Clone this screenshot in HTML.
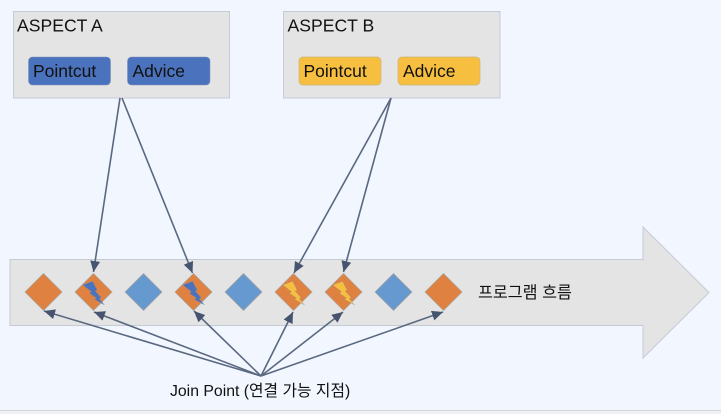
<!DOCTYPE html>
<html>
<head>
<meta charset="utf-8">
<style>
html,body{margin:0;padding:0;background:#f1f6ff;}
svg{display:block;}
text{font-family:"Liberation Sans","Noto Sans CJK KR",sans-serif;fill:#111;}
</style>
</head>
<body>
<svg width="721" height="414" viewBox="0 0 721 414" xmlns="http://www.w3.org/2000/svg">
<defs>
<marker id="a" markerUnits="userSpaceOnUse" markerWidth="13" markerHeight="11" refX="11" refY="5" orient="auto">
<path d="M0 0L11 5L0 10z" fill="#46546f"/>
</marker>
<polygon id="d" points="0,-18.5 18.5,0 0,18.5 -18.5,0" stroke="#a9a59f" stroke-width="0.7"/>
<path id="bolt" d="M-10.7,-7 L-1,-10.7 L3.7,-2 L1.7,-1 L7.7,5.7 L5.7,6.7 L11,13 L1,7.3 L3,6 L-4,1.3 L-2,-0.3z" stroke="#8a8f9a" stroke-width="0.3"/>
</defs>
<rect width="721" height="414" fill="#f1f6ff"/>
<rect x="0" y="410" width="721" height="4" fill="#f0f1f5"/>
<rect x="0" y="410" width="721" height="1" fill="#d4d6da"/>

<rect x="13.5" y="11.5" width="216" height="86.5" fill="#e4e4e4" stroke="#c5cbd8" stroke-width="1"/>
<rect x="28.5" y="57" width="82" height="28" rx="4" fill="#4a72bd" stroke="#8194bb" stroke-width="0.6"/>
<rect x="127.5" y="57" width="82.5" height="28" rx="4" fill="#4a72bd" stroke="#8194bb" stroke-width="0.6"/>
<text x="17" y="31.5" font-size="17.6">ASPECT A</text>
<text x="33" y="77" font-size="17.5">Pointcut</text>
<text x="132.5" y="77" font-size="17.5">Advice</text>

<rect x="283.5" y="11.5" width="216.5" height="86.5" fill="#e4e4e4" stroke="#c5cbd8" stroke-width="1"/>
<rect x="299" y="57" width="82" height="28" rx="4" fill="#f6bf3f" stroke="#cdb47a" stroke-width="0.7"/>
<rect x="398" y="57" width="82" height="28" rx="4" fill="#f6bf3f" stroke="#cdb47a" stroke-width="0.7"/>
<text x="287.5" y="31.5" font-size="17.6">ASPECT B</text>
<text x="303.5" y="77" font-size="17.5">Pointcut</text>
<text x="403" y="77" font-size="17.5">Advice</text>

<polygon points="10,259.5 643,259.5 643,227 709,292.5 643,358 643,325.5 10,325.5" fill="#e4e4e4" stroke="#c5cbd6" stroke-width="1"/>

<g fill="#df8141">
<use href="#d" x="43.5" y="292"/>
<use href="#d" x="93.5" y="292"/>
<use href="#d" x="193.5" y="292"/>
<use href="#d" x="293.5" y="292"/>
<use href="#d" x="343.5" y="292"/>
<use href="#d" x="443.5" y="292"/>
</g>
<g fill="#6699cf">
<use href="#d" x="143.5" y="292"/>
<use href="#d" x="243.5" y="292"/>
<use href="#d" x="393.5" y="292"/>
</g>
<g fill="#4a72bd">
<use href="#bolt" x="93.5" y="292"/>
<use href="#bolt" x="193.5" y="292"/>
</g>
<g fill="#f6bf3f">
<use href="#bolt" x="293.5" y="292"/>
<use href="#bolt" x="343.5" y="292"/>
</g>

<g stroke="#5a6880" stroke-width="1.6" fill="none">
<line x1="120" y1="98" x2="93.5" y2="272" marker-end="url(#a)"/>
<line x1="122" y1="98" x2="192.5" y2="273" marker-end="url(#a)"/>
<line x1="391" y1="98" x2="294" y2="273" marker-end="url(#a)"/>
<line x1="391" y1="98" x2="343.5" y2="272" marker-end="url(#a)"/>
<line x1="261" y1="376" x2="44" y2="311" marker-end="url(#a)"/>
<line x1="261" y1="376" x2="94" y2="312" marker-end="url(#a)"/>
<line x1="261" y1="376" x2="194" y2="311" marker-end="url(#a)"/>
<line x1="261" y1="376" x2="293" y2="312" marker-end="url(#a)"/>
<line x1="261" y1="376" x2="343" y2="312" marker-end="url(#a)"/>
<line x1="261" y1="376" x2="443" y2="312" marker-end="url(#a)"/>
</g>

<text x="478" y="298" font-size="16.2">프로그램 흐름</text>
<text x="170" y="396" font-size="15.8">Join Point (연결 가능 지점)</text>
</svg>
</body>
</html>
